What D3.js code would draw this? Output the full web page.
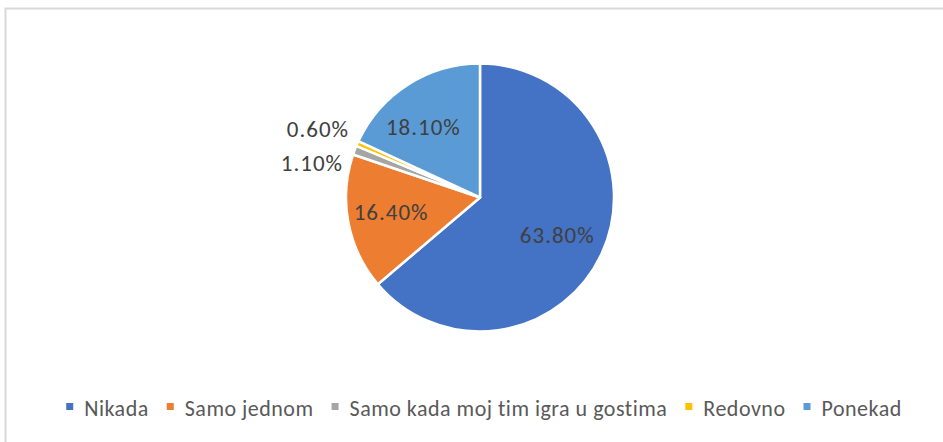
<!DOCTYPE html>
<html>
<head>
<meta charset="utf-8">
<script src="https://cdn.jsdelivr.net/npm/d3@7"></script>
<style>
  body { margin: 0; background: #fff; }
  svg { display: block; font-family: Carlito, Calibri, Lato, sans-serif; }
</style>
</head>
<body>
<div class="pie-chart"></div>
<script>
// chart values
var categories = ["Nikada", "Samo jednom", "Samo kada moj tim igra u gostima", "Redovno", "Ponekad"];
var values = [63.8, 16.4, 1.1, 0.6, 18.1];
var colors = ["#4472C4", "#ED7D31", "#A5A5A5", "#FFC000", "#5B9BD5"];

var width = 943, height = 442;
var cx = 480, cy = 197.5, radius = 134;

var svg = d3.select(".pie-chart").append("svg")
    .attr("width", width)
    .attr("height", height);

// chart area border (cut off at right and bottom like the screenshot)
svg.append("rect")
    .attr("x", 5.5).attr("y", 8.5)
    .attr("width", width + 10).attr("height", height + 10)
    .attr("fill", "#fff")
    .attr("stroke", "#d9d9d9")
    .attr("stroke-width", 2);

var data = categories.map(function (c, i) { return {name: c, value: values[i], color: colors[i]}; });

var pie = d3.pie().sort(null).value(function (d) { return d.value; });
var arc = d3.arc().innerRadius(0).outerRadius(radius);
var labelArc = d3.arc().innerRadius(radius * 0.66).outerRadius(radius * 0.66);

var g = svg.append("g").attr("transform", "translate(" + cx + "," + cy + ")");
var arcs = pie(data);

g.selectAll("path.slice")
    .data(arcs)
    .enter().append("path")
    .attr("class", "slice")
    .attr("d", arc)
    .attr("fill", function (d) { return d.data.color; })
    .attr("stroke", "#fff")
    .attr("stroke-width", 2.5)
    .attr("stroke-linejoin", "round");

// labels: small slices are pushed outside to the left, others nudged a bit
var outsideShift = {2: [-137, -35], 3: [-131, -69]};
var nudge = {0: [-3, 0], 1: [-2, -2], 4: [-9, 4]};
g.selectAll("text.lbl")
    .data(arcs)
    .enter().append("text")
    .attr("class", "lbl")
    .attr("transform", function (d, i) {
        if (outsideShift[i]) return "translate(" + outsideShift[i] + ")";
        var c = labelArc.centroid(d), n = nudge[i] || [0, 0];
        return "translate(" + (c[0] + n[0]) + "," + (c[1] + n[1]) + ")";
    })
    .attr("text-anchor", function (d, i) { return outsideShift[i] ? "end" : "middle"; })
    .attr("dy", "0.35em")
    .style("font-size", "23px")
    .style("letter-spacing", "1px")
    .style("fill", "#404040")
    .text(function (d) { return d.data.value.toFixed(2) + "%"; });

// legend, laid out by measured text widths and centred
var legend = svg.append("g").attr("class", "legend");
var items = legend.selectAll("g.item")
    .data(data)
    .enter().append("g")
    .attr("class", "item");

items.append("rect")
    .attr("width", 7).attr("height", 7)
    .attr("y", -13)
    .attr("fill", function (d) { return d.color; });

items.append("text")
    .attr("x", 18)
    .style("font-size", "22px")
    .style("letter-spacing", "0.5px")
    .style("fill", "#595959")
    .text(function (d) { return d.name; });

var gap = 18, xpos = 0, offsets = [];
items.each(function () {
    offsets.push(xpos);
    xpos += 18 + d3.select(this).select("text").node().getComputedTextLength() + gap;
});
var total = xpos - gap;
var startX = 484 - total / 2;
items.attr("transform", function (d, i) { return "translate(" + (startX + offsets[i]) + ",416)"; });
</script>
</body>
</html>
